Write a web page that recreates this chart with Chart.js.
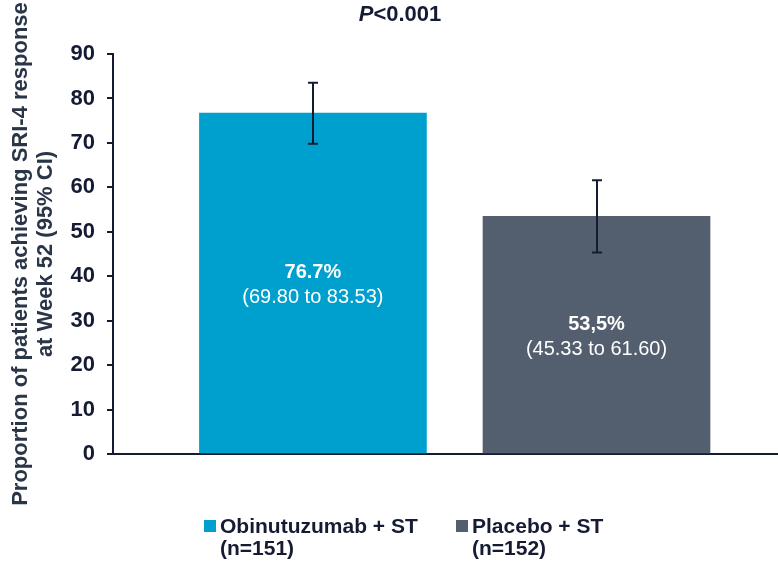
<!DOCTYPE html>
<html>
<head>
<meta charset="utf-8">
<script src="https://cdn.jsdelivr.net/npm/chart.js@4.4.1/dist/chart.umd.min.js"></script>
<style>
  html, body { margin: 0; padding: 0; background: #ffffff; }
  #wrap { width: 778px; height: 564px; position: relative; }
</style>
</head>
<body>
<div id="wrap"><canvas id="chart" width="778" height="564"></canvas></div>
<script>
// SRI-4 response at week 52, with 95% confidence intervals
const categories = ['Obinutuzumab + ST', 'Placebo + ST'];
const sampleSizes = [151, 152];
const responseRates = [76.7, 53.5];
const ciLower = [69.80, 45.33];
const ciUpper = [83.53, 61.60];
const decimalMarks = ['.', ','];
const yTickValues = [0, 10, 20, 30, 40, 50, 60, 70, 80, 90];
const pValueLabel = ['P', '<0.001'];
const yAxisTitle = ['Proportion of patients achieving SRI-4 response', 'at Week 52 (95% CI)'];

const barColors = ['#00A0CE', '#535F6E'];
const inkColor = '#151b33';
const FONT = '"Liberation Sans", Arial, Helvetica, sans-serif';

// Whiskers for the confidence intervals
const errorBarPlugin = {
  id: 'errorBars',
  afterDatasetsDraw(chart) {
    const { ctx, scales: { y } } = chart;
    const meta = chart.getDatasetMeta(0);
    ctx.save();
    ctx.strokeStyle = inkColor;
    ctx.lineWidth = 2;
    meta.data.forEach((bar, i) => {
      const x = Math.round(bar.x);
      const top = y.getPixelForValue(ciUpper[i]);
      const bottom = y.getPixelForValue(ciLower[i]);
      ctx.beginPath();
      ctx.moveTo(x, top); ctx.lineTo(x, bottom);
      ctx.moveTo(x - 5, top); ctx.lineTo(x + 5, top);
      ctx.moveTo(x - 5, bottom); ctx.lineTo(x + 5, bottom);
      ctx.stroke();
    });
    ctx.restore();
  }
};

// Rate and interval printed inside each bar
const barLabelPlugin = {
  id: 'barLabels',
  afterDatasetsDraw(chart) {
    const { ctx, scales: { y } } = chart;
    const meta = chart.getDatasetMeta(0);
    ctx.save();
    ctx.fillStyle = '#ffffff';
    ctx.textAlign = 'center';
    ctx.textBaseline = 'middle';
    meta.data.forEach((bar, i) => {
      const mid = y.getPixelForValue(responseRates[i] / 2);
      const rate = responseRates[i].toFixed(1).replace('.', decimalMarks[i]) + '%';
      const ci = '(' + ciLower[i].toFixed(2) + ' to ' + ciUpper[i].toFixed(2) + ')';
      ctx.font = 'bold 20px ' + FONT;
      ctx.fillText(rate, bar.x, mid - 11);
      ctx.font = '20px ' + FONT;
      ctx.fillText(ci, bar.x, mid + 14);
    });
    ctx.restore();
  }
};

// P value above the bars and the two-line legend below the axis
const annotationPlugin = {
  id: 'annotations',
  afterDraw(chart) {
    const { ctx } = chart;
    ctx.save();
    ctx.fillStyle = inkColor;
    ctx.textBaseline = 'middle';
    ctx.textAlign = 'left';
    ctx.font = 'italic bold 22px ' + FONT;
    const wP = ctx.measureText(pValueLabel[0]).width;
    ctx.font = 'bold 22px ' + FONT;
    const wRest = ctx.measureText(pValueLabel[1]).width;
    const startX = 400 - (wP + wRest) / 2;
    ctx.font = 'italic bold 22px ' + FONT;
    ctx.fillText(pValueLabel[0], startX, 15);
    ctx.font = 'bold 22px ' + FONT;
    ctx.fillText(pValueLabel[1], startX + wP, 15);

    const itemX = [204, 456];
    categories.forEach((name, i) => {
      const x0 = itemX[i];
      ctx.fillStyle = barColors[i];
      ctx.fillRect(x0, 520, 12, 12);
      ctx.fillStyle = inkColor;
      ctx.font = 'bold 21px ' + FONT;
      ctx.fillText(name, x0 + 16, 527);
      ctx.fillText('(n=' + sampleSizes[i] + ')', x0 + 16, 549);
    });
    ctx.restore();
  }
};

new Chart(document.getElementById('chart'), {
  type: 'bar',
  data: {
    labels: categories,
    datasets: [{
      data: responseRates.map((v, i) => ({ x: i + 1, y: v })),
      backgroundColor: barColors,
      borderWidth: 0,
      barThickness: 227
    }]
  },
  options: {
    responsive: false,
    animation: false,
    devicePixelRatio: 1,
    layout: { padding: { top: 54, right: 0, bottom: 110, left: 0 } },
    plugins: {
      legend: { display: false },
      tooltip: { enabled: false }
    },
    scales: {
      x: {
        type: 'linear',
        offset: false,
        min: 0.295,
        max: 2.64,
        afterFit(scale) { scale.height = 0; },
        ticks: { display: false },
        grid: { display: false },
        border: { display: true, color: inkColor, width: 2 }
      },
      y: {
        min: 0,
        max: 90,
        afterBuildTicks(scale) { scale.ticks = yTickValues.map(v => ({ value: v })); },
        afterFit(scale) { scale.width = 113; },
        ticks: {
          color: inkColor,
          padding: 12,
          font: { family: FONT, size: 22, weight: 'bold' }
        },
        grid: {
          display: true,
          drawOnChartArea: false,
          drawTicks: true,
          tickLength: 6,
          color: inkColor,
          lineWidth: 2
        },
        border: { display: true, color: inkColor, width: 2 },
        title: {
          display: true,
          text: yAxisTitle,
          color: '#2a3547',
          padding: { top: 8, bottom: 0 },
          font: { family: FONT, size: 22, weight: 'bold', lineHeight: 1.15 }
        }
      }
    }
  },
  plugins: [errorBarPlugin, barLabelPlugin, annotationPlugin]
});
</script>
</body>
</html>
